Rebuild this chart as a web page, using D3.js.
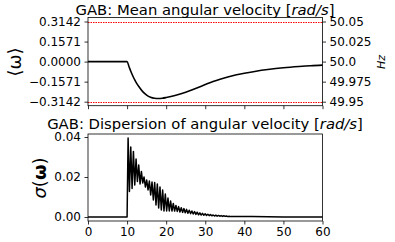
<!DOCTYPE html>
<html>
<head>
<meta charset="utf-8">
<script src="https://d3js.org/d3.v7.min.js"></script>
<style>
  body { margin: 0; background: #fff; }
  text { font-family: "DejaVu Sans", sans-serif; fill: #000; }
</style>
</head>
<body>
<div id="chart"></div>
<script>
// mean angular velocity (rad/s) vs time (s)
const omegaT = [0, 10, 10.5, 11, 11.5, 12, 12.5, 13, 14, 15, 16, 17, 18, 19, 20, 22, 24, 26, 28, 30, 32, 34, 36, 38, 40, 43, 46, 50, 54, 57, 60];
const omegaMean = [0, 0, -0.04, -0.08, -0.115, -0.145, -0.172, -0.195, -0.235, -0.262, -0.279, -0.287, -0.289, -0.287, -0.282, -0.268, -0.25, -0.229, -0.205, -0.18, -0.156, -0.136, -0.118, -0.103, -0.091, -0.075, -0.062, -0.048, -0.038, -0.032, -0.028];

// dispersion: flat part, oscillating part (sampled every 0.34 s from 10.26 s), tail
const sigmaHeadT = [0, 10];
const sigmaHead = [0, 0];
const sigmaOscStart = 10.26, sigmaOscStep = 0.34;
const sigmaOsc = [0.0395, 0.0128, 0.0350, 0.0143, 0.0328, 0.0160, 0.0290, 0.0178, 0.0260, 0.0165,
  0.0228, 0.0170, 0.0200, 0.0150, 0.0185, 0.0135, 0.0180, 0.0110, 0.0175, 0.0085,
  0.0172, 0.0060, 0.0165, 0.0045, 0.0150, 0.0035, 0.0135, 0.0030, 0.0115, 0.0030,
  0.0095, 0.0030, 0.0080, 0.0030, 0.0068, 0.0030, 0.0058, 0.0028, 0.0052, 0.0025,
  0.0046, 0.0023, 0.0042, 0.0021, 0.0038, 0.0019, 0.0034, 0.0017, 0.0030, 0.0015,
  0.0027, 0.0013, 0.0024, 0.0011, 0.0021, 0.0010, 0.0018, 0.0009, 0.0016, 0.0008,
  0.0014, 0.0007, 0.0012, 0.0006, 0.0010, 0.0005, 0.0009, 0.0004, 0.0008, 0.0004,
  0.0007, 0.0003, 0.0006, 0.0003, 0.0005, 0.0002, 0.0004, 0.0002];
const sigmaTailT = [38, 42, 46, 50, 60];
const sigmaTail = [0.0003, 0.0002, 0.0001, 0.0, 0.0];

const xTicks = [0, 10, 20, 30, 40, 50, 60];
const meanTicks = [0.3142, 0.1571, 0, -0.1571, -0.3142];
const meanTickLabels = ["0.3142", "0.1571", "0.0000", "\u22120.1571", "\u22120.3142"];
const hzTicks = [50.05, 50.025, 50.0, 49.975, 49.95];
const hzTickLabels = ["50.05", "50.025", "50.0", "49.975", "49.95"];
const sigmaTicks = [0, 0.02, 0.04];
const sigmaTickLabels = ["0.00", "0.02", "0.04"];
const limitLines = [0.3142, -0.3142];

const width = 395, height = 242;
const svg = d3.select("#chart").append("svg")
  .attr("width", width).attr("height", height);

const x = d3.scaleLinear().domain([0, 60]).range([88, 322.5]);

// top panel
const yTop = d3.scaleLinear().domain([-0.3456, 0.3456]).range([105.7, 17.5]);
const yHz = d3.scaleLinear().domain([50 - 0.3456 / (2 * Math.PI), 50 + 0.3456 / (2 * Math.PI)]).range([105.7, 17.5]);
// bottom panel
const yBot = d3.scaleLinear().domain([-0.002, 0.0415]).range([221, 134]);

const fs = 12;

function styleAxis(g) {
  g.selectAll(".domain").remove();
  g.selectAll("line").attr("stroke", "#000").attr("stroke-width", 0.8);
  g.selectAll("text").style("font-size", fs + "px");
}

// top axes
svg.append("g").attr("transform", "translate(0,105.7)")
  .call(d3.axisBottom(x).tickValues(xTicks).tickSize(3.5).tickFormat(""))
  .call(styleAxis);
svg.append("g").attr("transform", "translate(88,0)")
  .call(d3.axisLeft(yTop).tickValues(meanTicks).tickSize(3.5).tickPadding(3.5)
    .tickFormat((d, i) => meanTickLabels[i]))
  .call(styleAxis);
svg.append("g").attr("transform", "translate(322.5,0)")
  .call(d3.axisRight(yHz).tickValues(hzTicks).tickSize(3.5).tickPadding(3.5)
    .tickFormat((d, i) => hzTickLabels[i]))
  .call(styleAxis);

svg.selectAll(".limit").data(limitLines).enter().append("line")
  .attr("x1", x(0)).attr("x2", x(60))
  .attr("y1", d => Math.round(yTop(d)) + 0.5).attr("y2", d => Math.round(yTop(d)) + 0.5)
  .attr("stroke", "#ff0000").attr("stroke-width", 1).attr("stroke-dasharray", "1.5,1");

const meanData = omegaT.map((t, i) => [t, omegaMean[i]]);
svg.append("path").datum(meanData)
  .attr("fill", "none").attr("stroke", "#000").attr("stroke-width", 1.6)
  .attr("d", d3.line().x(d => x(d[0])).y(d => yTop(d[1])).curve(d3.curveMonotoneX));

svg.append("rect").attr("x", 88).attr("y", 17.5).attr("width", 322.5 - 88).attr("height", 105.7 - 17.5)
  .attr("fill", "none").attr("stroke", "#000").attr("stroke-width", 0.8);

// bottom axes
svg.append("g").attr("transform", "translate(0,221)")
  .call(d3.axisBottom(x).tickValues(xTicks).tickSize(3.5).tickPadding(2.5))
  .call(styleAxis);
svg.append("g").attr("transform", "translate(88,0)")
  .call(d3.axisLeft(yBot).tickValues(sigmaTicks).tickSize(3.5).tickPadding(3.5)
    .tickFormat((d, i) => sigmaTickLabels[i]))
  .call(styleAxis);

const sigmaData = sigmaHeadT.map((t, i) => [t, sigmaHead[i]])
  .concat(sigmaOsc.map((v, i) => [sigmaOscStart + i * sigmaOscStep, v]))
  .concat(sigmaTailT.map((t, i) => [t, sigmaTail[i]]));
svg.append("path").datum(sigmaData)
  .attr("fill", "none").attr("stroke", "#000").attr("stroke-width", 1.5)
  .attr("stroke-linejoin", "round")
  .attr("d", d3.line().x(d => x(d[0])).y(d => yBot(d[1])));

svg.append("rect").attr("x", 88).attr("y", 134).attr("width", 322.5 - 88).attr("height", 221 - 134)
  .attr("fill", "none").attr("stroke", "#000").attr("stroke-width", 0.8);

// titles
const t1 = svg.append("text").attr("x", 205).attr("y", 14.5).attr("text-anchor", "middle")
  .style("font-size", "14.8px");
t1.append("tspan").text("GAB: Mean angular velocity [");
t1.append("tspan").style("font-style", "italic").text("rad/s");
t1.append("tspan").text("]");

const t2 = svg.append("text").attr("x", 205).attr("y", 128.5).attr("text-anchor", "middle")
  .style("font-size", "14.8px");
t2.append("tspan").text("GAB: Dispersion of angular velocity [");
t2.append("tspan").style("font-style", "italic").text("rad/s");
t2.append("tspan").text("]");

// axis labels
svg.append("text").attr("transform", "translate(21,62) rotate(-90)")
  .attr("text-anchor", "middle").style("font-size", "18px").text("\u27e8\u03c9\u27e9");

const yl2 = svg.append("text").attr("transform", "translate(46,178) rotate(-90)")
  .attr("text-anchor", "middle").style("font-size", "18px");
yl2.append("tspan").style("font-style", "italic").text("\u03c3");
yl2.append("tspan").text("(");
yl2.append("tspan").style("font-weight", "bold").text("\u03c9");
yl2.append("tspan").text(")");

svg.append("text").attr("transform", "translate(385,62) rotate(-90)")
  .attr("text-anchor", "middle").style("font-size", "11px").style("font-style", "italic").text("Hz");
</script>
</body>
</html>
